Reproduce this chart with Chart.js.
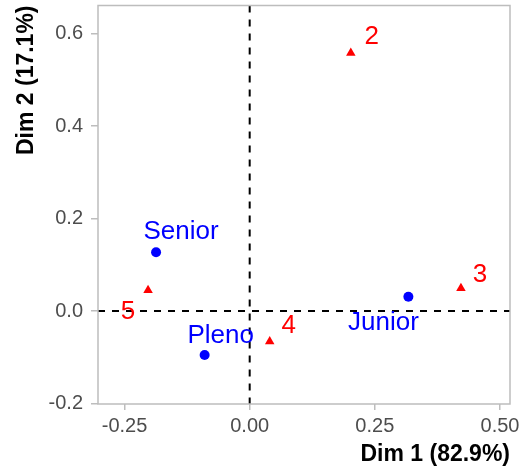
<!DOCTYPE html>
<html>
<head>
<meta charset="utf-8">
<script src="https://cdn.jsdelivr.net/npm/chart.js@4.4.1/dist/chart.umd.min.js"></script>
<style>
  html, body { margin: 0; padding: 0; background: #fff; }
  #wrap { width: 524px; height: 470px; }
</style>
</head>
<body>
<div id="wrap"><canvas id="caChart" width="524" height="470"></canvas></div>
<script>
// column points (blue)
var colLabels = ["Senior", "Pleno", "Junior"];
var colX = [-0.187, -0.09, 0.317];
var colY = [0.127, -0.095, 0.031];

// row points (red)
var rowLabels = ["2", "3", "4", "5"];
var rowX = [0.202, 0.422, 0.04, -0.203];
var rowY = [0.558, 0.049, -0.066, 0.045];

var xTicks = [-0.25, 0, 0.25, 0.5];
var yTicks = [-0.2, 0, 0.2, 0.4, 0.6];

// label nudges in pixels (repel-style placement)
var colNudge = [[25, -20], [16, -19], [-25, 26]];
var rowNudge = [[21, -16], [19, -14], [19, -16], [-20, 22]];

function toPoints(xs, ys) {
  return xs.map(function (x, i) { return { x: x, y: ys[i] }; });
}

var panelPlugin = {
  id: "panel",
  beforeDatasetsDraw: function (chart) {
    var c = chart.ctx, a = chart.chartArea;
    var x0 = chart.scales.x.getPixelForValue(0);
    var y0 = chart.scales.y.getPixelForValue(0);
    c.save();
    c.strokeStyle = "#000";
    c.lineWidth = 2;
    c.setLineDash([7, 7]);
    c.beginPath();
    c.moveTo(x0, a.top); c.lineTo(x0, a.bottom);
    c.moveTo(a.left, y0); c.lineTo(a.right, y0);
    c.stroke();
    c.restore();
  },
  afterDraw: function (chart) {
    var c = chart.ctx, a = chart.chartArea;
    c.save();
    c.strokeStyle = "#BDBDBD";
    c.lineWidth = 1.5;
    c.strokeRect(a.left, a.top, a.right - a.left, a.bottom - a.top);
    c.restore();
  }
};

var labelPlugin = {
  id: "pointLabels",
  afterDatasetsDraw: function (chart) {
    var c = chart.ctx;
    c.save();
    c.font = "26px 'Liberation Sans', Arial, sans-serif";
    c.textAlign = "center";
    c.textBaseline = "middle";
    chart.data.datasets.forEach(function (ds, di) {
      var meta = chart.getDatasetMeta(di);
      c.fillStyle = ds.labelColor;
      meta.data.forEach(function (el, i) {
        var n = ds.nudge[i];
        c.fillText(ds.labels[i], el.x + n[0], el.y + n[1]);
      });
    });
    c.restore();
  }
};

var ctx = document.getElementById("caChart").getContext("2d");
var caChart = new Chart(ctx, {
  type: "scatter",
  data: {
    datasets: [
      {
        label: "Colunas",
        data: toPoints(colX, colY),
        labels: colLabels,
        nudge: colNudge,
        labelColor: "#0000FF",
        pointStyle: "circle",
        pointRadius: 5,
        backgroundColor: "#0000FF",
        borderWidth: 0
      },
      {
        label: "Linhas",
        data: toPoints(rowX, rowY),
        labels: rowLabels,
        nudge: rowNudge,
        labelColor: "#FF0000",
        pointStyle: "triangle",
        pointRadius: 5.5,
        backgroundColor: "#FF0000",
        borderWidth: 0
      }
    ]
  },
  options: {
    responsive: false,
    animation: false,
    layout: { padding: { top: 5, right: 14, left: 0, bottom: 0 } },
    plugins: { legend: { display: false }, tooltip: { enabled: false } },
    scales: {
      x: {
        type: "linear",
        min: -0.303,
        max: 0.52,
        afterBuildTicks: function (s) { s.ticks = xTicks.map(function (v) { return { value: v }; }); },
        afterFit: function (s) { s.height = 66; },
        grid: { drawOnChartArea: false, drawTicks: true, tickLength: 6, color: "#BDBDBD", lineWidth: 1.5 },
        border: { display: false },
        ticks: {
          padding: 4,
          color: "#4D4D4D",
          font: { family: "'Liberation Sans', Arial, sans-serif", size: 20 },
          callback: function (v) { return v.toFixed(2); }
        },
        title: {
          display: true,
          text: "Dim 1 (82.9%)",
          align: "end",
          color: "#000",
          padding: { top: 0, bottom: 2 },
          font: { family: "'Liberation Sans', Arial, sans-serif", size: 23, weight: "bold" }
        }
      },
      y: {
        type: "linear",
        min: -0.201,
        max: 0.6605,
        afterBuildTicks: function (s) { s.ticks = yTicks.map(function (v) { return { value: v }; }); },
        afterFit: function (s) { s.width = 98; s.paddingTop = 0; s.paddingBottom = 0; },
        grid: { drawOnChartArea: false, drawTicks: true, tickLength: 7, color: "#BDBDBD", lineWidth: 1.5 },
        border: { display: false },
        ticks: {
          padding: 8,
          color: "#4D4D4D",
          font: { family: "'Liberation Sans', Arial, sans-serif", size: 20 },
          callback: function (v) { return v.toFixed(1); }
        },
        title: {
          display: true,
          text: "Dim 2 (17.1%)",
          align: "end",
          color: "#000",
          padding: { top: 13, bottom: 0 },
          font: { family: "'Liberation Sans', Arial, sans-serif", size: 23, weight: "bold" }
        }
      }
    }
  },
  plugins: [panelPlugin, labelPlugin]
});
</script>
</body>
</html>
